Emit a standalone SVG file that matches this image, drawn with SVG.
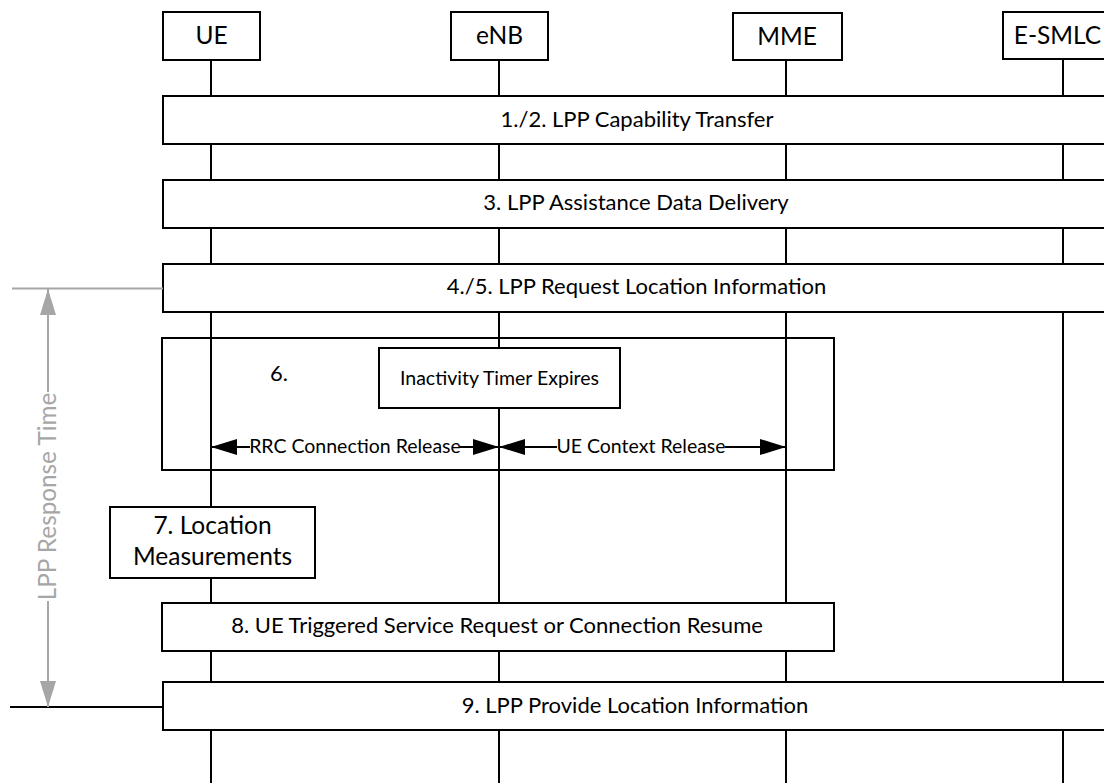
<svg xmlns="http://www.w3.org/2000/svg" width="1104" height="783" viewBox="0 0 1104 783">
<defs>
<style>
.box{fill:#fff;stroke:#000;stroke-width:2}
.frame{fill:none;stroke:#000;stroke-width:2}
.life{stroke:#000;stroke-width:2}
.ln{stroke:#000;stroke-width:2;fill:none}
.gray{stroke:#a6a6a6;stroke-width:2;fill:none}
.t{font-family:Lato,"Liberation Sans",sans-serif;fill:#000;text-anchor:middle}
.hdr{font-size:24.5px}
.main{font-size:22px}
.small{font-size:19.5px}
.gt{fill:#a6a6a6;font-size:24.3px}
</style>
<marker id="ah" markerUnits="userSpaceOnUse" markerWidth="26" markerHeight="16" refX="26" refY="8" orient="auto" viewBox="0 0 26 16"><path d="M0,0 L26,8 L0,16 z" fill="#000"/></marker>
<marker id="gah" markerUnits="userSpaceOnUse" markerWidth="26" markerHeight="16" refX="26" refY="8" orient="auto" viewBox="0 0 26 16"><path d="M0,0 L26,8 L0,16 z" fill="#a6a6a6"/></marker>
</defs>
<rect width="1104" height="783" fill="#fff"/>
<g id="lifelines">
<line class="life" x1="211" y1="60" x2="211" y2="783"/>
<line class="life" x1="499" y1="60" x2="499" y2="783"/>
<line class="life" x1="786" y1="60" x2="786" y2="783"/>
<line class="life" x1="1063" y1="60" x2="1063" y2="783"/>
</g>
<g id="UE"><rect class="box" x="163" y="12" width="97" height="48"/><text class="t hdr" x="211.5" y="44">UE</text></g>
<g id="eNB"><rect class="box" x="451" y="12" width="97" height="48"/><text class="t hdr" x="499.5" y="44">eNB</text></g>
<g id="MME"><rect class="box" x="733" y="13" width="109" height="47"/><text class="t hdr" x="787" y="45">MME</text></g>
<g id="E-SMLC"><rect class="box" x="1003" y="12" width="120" height="47"/><text class="t hdr" x="1057.5" y="44">E-SMLC</text></g>
<g id="step1-2"><rect class="box" x="163" y="96" width="950" height="48"/><text class="t main" x="637" y="127">1./2. LPP Capability Transfer</text></g>
<g id="step3"><rect class="box" x="163" y="180" width="950" height="48"/><text class="t main" x="636" y="210">3. LPP Assistance Data Delivery</text></g>
<g id="step4-5"><rect class="box" x="163" y="264" width="950" height="48"/><text class="t main" x="636.5" y="294">4./5. LPP Request Location Information</text></g>
<g id="step6"><rect class="frame" x="162" y="338" width="672" height="132"/><text class="t main" x="279" y="381">6.</text></g>
<g id="inactivity"><rect class="box" x="379" y="348" width="241" height="60"/><text class="t small" x="499.5" y="385">Inactivity Timer Expires</text></g>
<g id="step7"><rect class="box" x="110" y="507" width="205" height="71"/><text class="t hdr" x="212.5" y="534">7. Location</text><text class="t hdr" x="212.5" y="565">Measurements</text></g>
<g id="step8"><rect class="box" x="162" y="603" width="672" height="48"/><text class="t main" x="497" y="633">8. UE Triggered Service Request or Connection Resume</text></g>
<g id="step9"><rect class="box" x="163" y="682" width="950" height="48"/><text class="t main" x="635" y="713">9. LPP Provide Location Information</text></g>
<g id="connectors">
<line class="ln" x1="250" y1="447" x2="211" y2="447" marker-end="url(#ah)"/>
<line class="ln" x1="459" y1="447" x2="499" y2="447" marker-end="url(#ah)"/>
<line class="ln" x1="557" y1="447" x2="499" y2="447" marker-end="url(#ah)"/>
<line class="ln" x1="725" y1="447" x2="786" y2="447" marker-end="url(#ah)"/>
<text class="t small" x="355" y="453">RRC Connection Release</text>
<text class="t small" x="641" y="453">UE Context Release</text>
<line class="gray" x1="12" y1="288.5" x2="163" y2="288.5"/>
<line class="ln" x1="10" y1="707" x2="163" y2="707"/>
<line class="gray" x1="48" y1="392" x2="48" y2="289" marker-end="url(#gah)"/>
<line class="gray" x1="48" y1="601" x2="48" y2="707" marker-end="url(#gah)"/>
<text class="t gt" transform="translate(56,496.5) rotate(-90)">LPP Response Time</text>
</g>
</svg>
